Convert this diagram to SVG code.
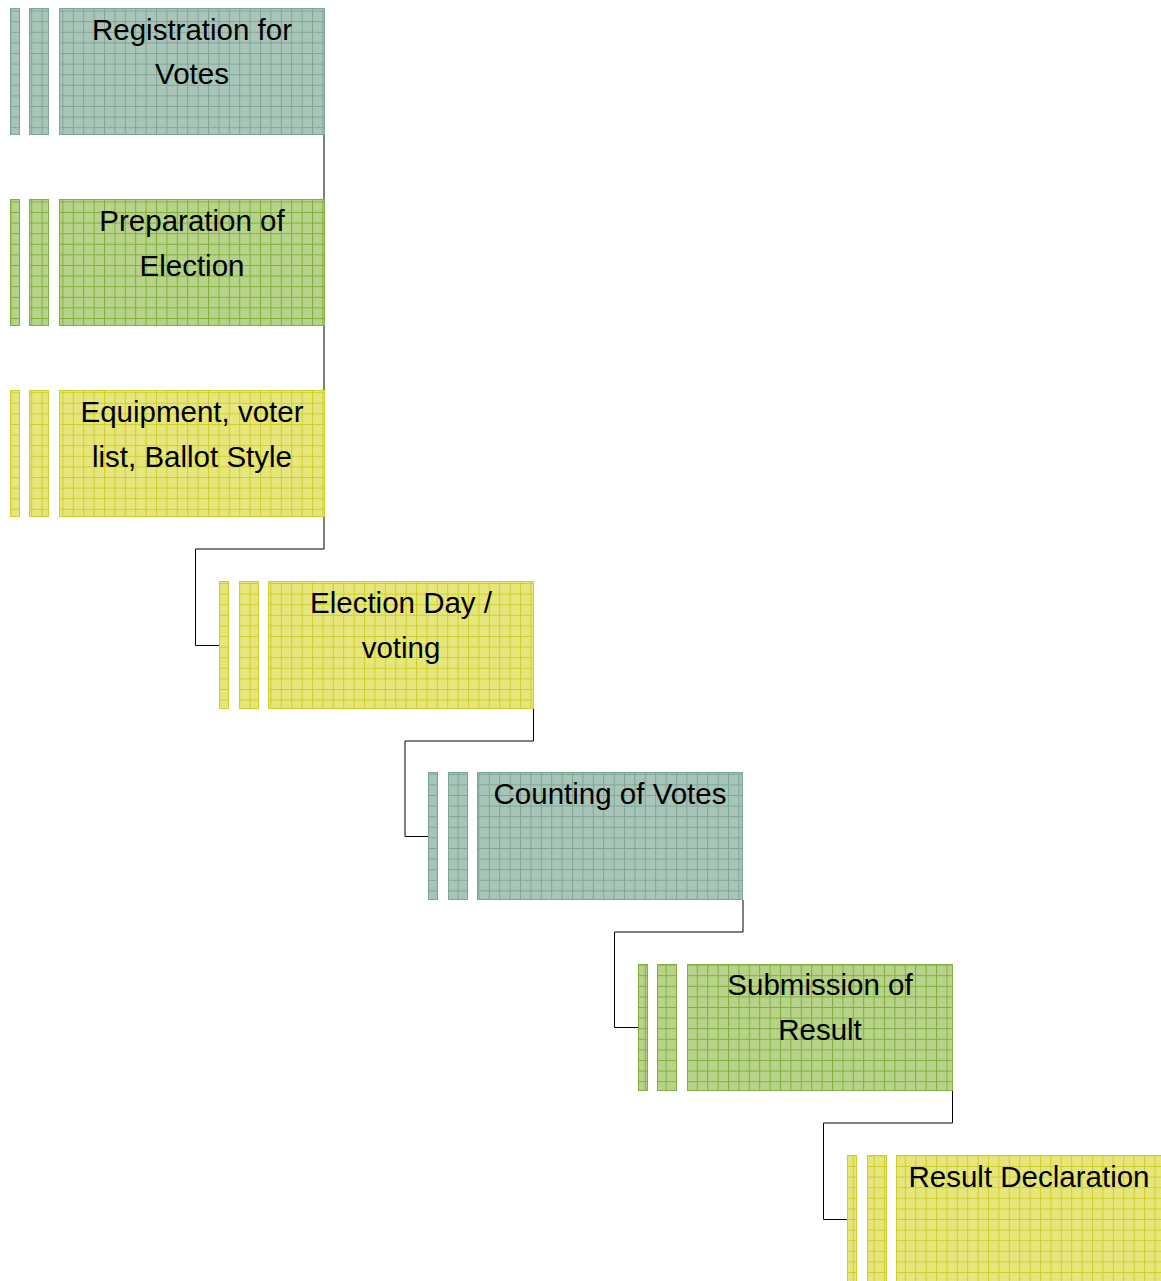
<svg xmlns="http://www.w3.org/2000/svg" width="1161" height="1281" viewBox="0 0 1161 1281">
<defs>
<pattern id="pT" patternUnits="userSpaceOnUse" width="10.4" height="10.6">
<rect width="10.4" height="10.6" fill="#a9c5b9"/>
<path d="M0 0.5H10.4M0.5 0V10.6" stroke="#7ea696" stroke-width="1"/>
</pattern>
<pattern id="pG" patternUnits="userSpaceOnUse" width="10.4" height="10.6">
<rect width="10.4" height="10.6" fill="#b6d389"/>
<path d="M0 0.5H10.4M0.5 0V10.6" stroke="#82ae3e" stroke-width="1"/>
</pattern>
<pattern id="pY" patternUnits="userSpaceOnUse" width="10.4" height="10.6">
<rect width="10.4" height="10.6" fill="#e6e67c"/>
<path d="M0 0.5H10.4M0.5 0V10.6" stroke="#cfcf2c" stroke-width="1"/>
</pattern>
</defs>
<style>
.t{fill:url(#pT);stroke:#7ea696;stroke-width:1}
.g{fill:url(#pG);stroke:#82ae3e;stroke-width:1}
.y{fill:url(#pY);stroke:#cfcf2c;stroke-width:1}
text{font-family:"Liberation Sans","Open Sans",sans-serif;font-size:29.5px;fill:#000;text-anchor:middle}
.c{fill:none;stroke:#000;stroke-width:1}
</style>
<g id="connectors">
<polyline class="c" points="324,135 324,199"/>
<polyline class="c" points="324,326 324,390"/>
<polyline class="c" points="324,517 324,549 195.5,549 195.5,645.5 219,645.5"/>
<polyline class="c" points="533.5,709 533.5,741 405,741 405,836.5 428,836.5"/>
<polyline class="c" points="743,900 743,932 614.5,932 614.5,1027.5 638,1027.5"/>
<polyline class="c" points="952.5,1091 952.5,1123 823.5,1123 823.5,1219.5 847,1219.5"/>
</g>
<g id="n1">
<rect class="t" x="10.5" y="8.5" width="9" height="126"/>
<rect class="t" x="29.5" y="8.5" width="19" height="126"/>
<rect class="t" x="59.5" y="8.5" width="265" height="126"/>
<text x="192" y="40">Registration for</text>
<text x="192" y="84">Votes</text>
</g>
<g id="n2">
<rect class="g" x="10.5" y="199.5" width="9" height="126"/>
<rect class="g" x="29.5" y="199.5" width="19" height="126"/>
<rect class="g" x="59.5" y="199.5" width="265" height="126"/>
<text x="192" y="231">Preparation of</text>
<text x="192" y="276">Election</text>
</g>
<g id="n3">
<rect class="y" x="10.5" y="390.5" width="9" height="126"/>
<rect class="y" x="29.5" y="390.5" width="19" height="126"/>
<rect class="y" x="59.5" y="390.5" width="265" height="126"/>
<text x="192" y="422">Equipment, voter</text>
<text x="192" y="467">list, Ballot Style</text>
</g>
<g id="n4">
<rect class="y" x="219.5" y="581.5" width="9" height="127"/>
<rect class="y" x="239.5" y="581.5" width="19" height="127"/>
<rect class="y" x="268.5" y="581.5" width="265" height="127"/>
<text x="401" y="613">Election Day /</text>
<text x="401" y="658">voting</text>
</g>
<g id="n5">
<rect class="t" x="428.5" y="772.5" width="9" height="127"/>
<rect class="t" x="448.5" y="772.5" width="19" height="127"/>
<rect class="t" x="477.5" y="772.5" width="265" height="127"/>
<text x="610" y="804">Counting of Votes</text>
</g>
<g id="n6">
<rect class="g" x="638.5" y="964.5" width="9" height="126"/>
<rect class="g" x="657.5" y="964.5" width="19" height="126"/>
<rect class="g" x="687.5" y="964.5" width="265" height="126"/>
<text x="820" y="995">Submission of</text>
<text x="820" y="1040">Result</text>
</g>
<g id="n7">
<rect class="y" x="847.5" y="1155.5" width="9" height="127"/>
<rect class="y" x="867.5" y="1155.5" width="19" height="127"/>
<rect class="y" x="896.5" y="1155.5" width="266" height="127"/>
<text x="1029" y="1187">Result Declaration</text>
</g>
</svg>
